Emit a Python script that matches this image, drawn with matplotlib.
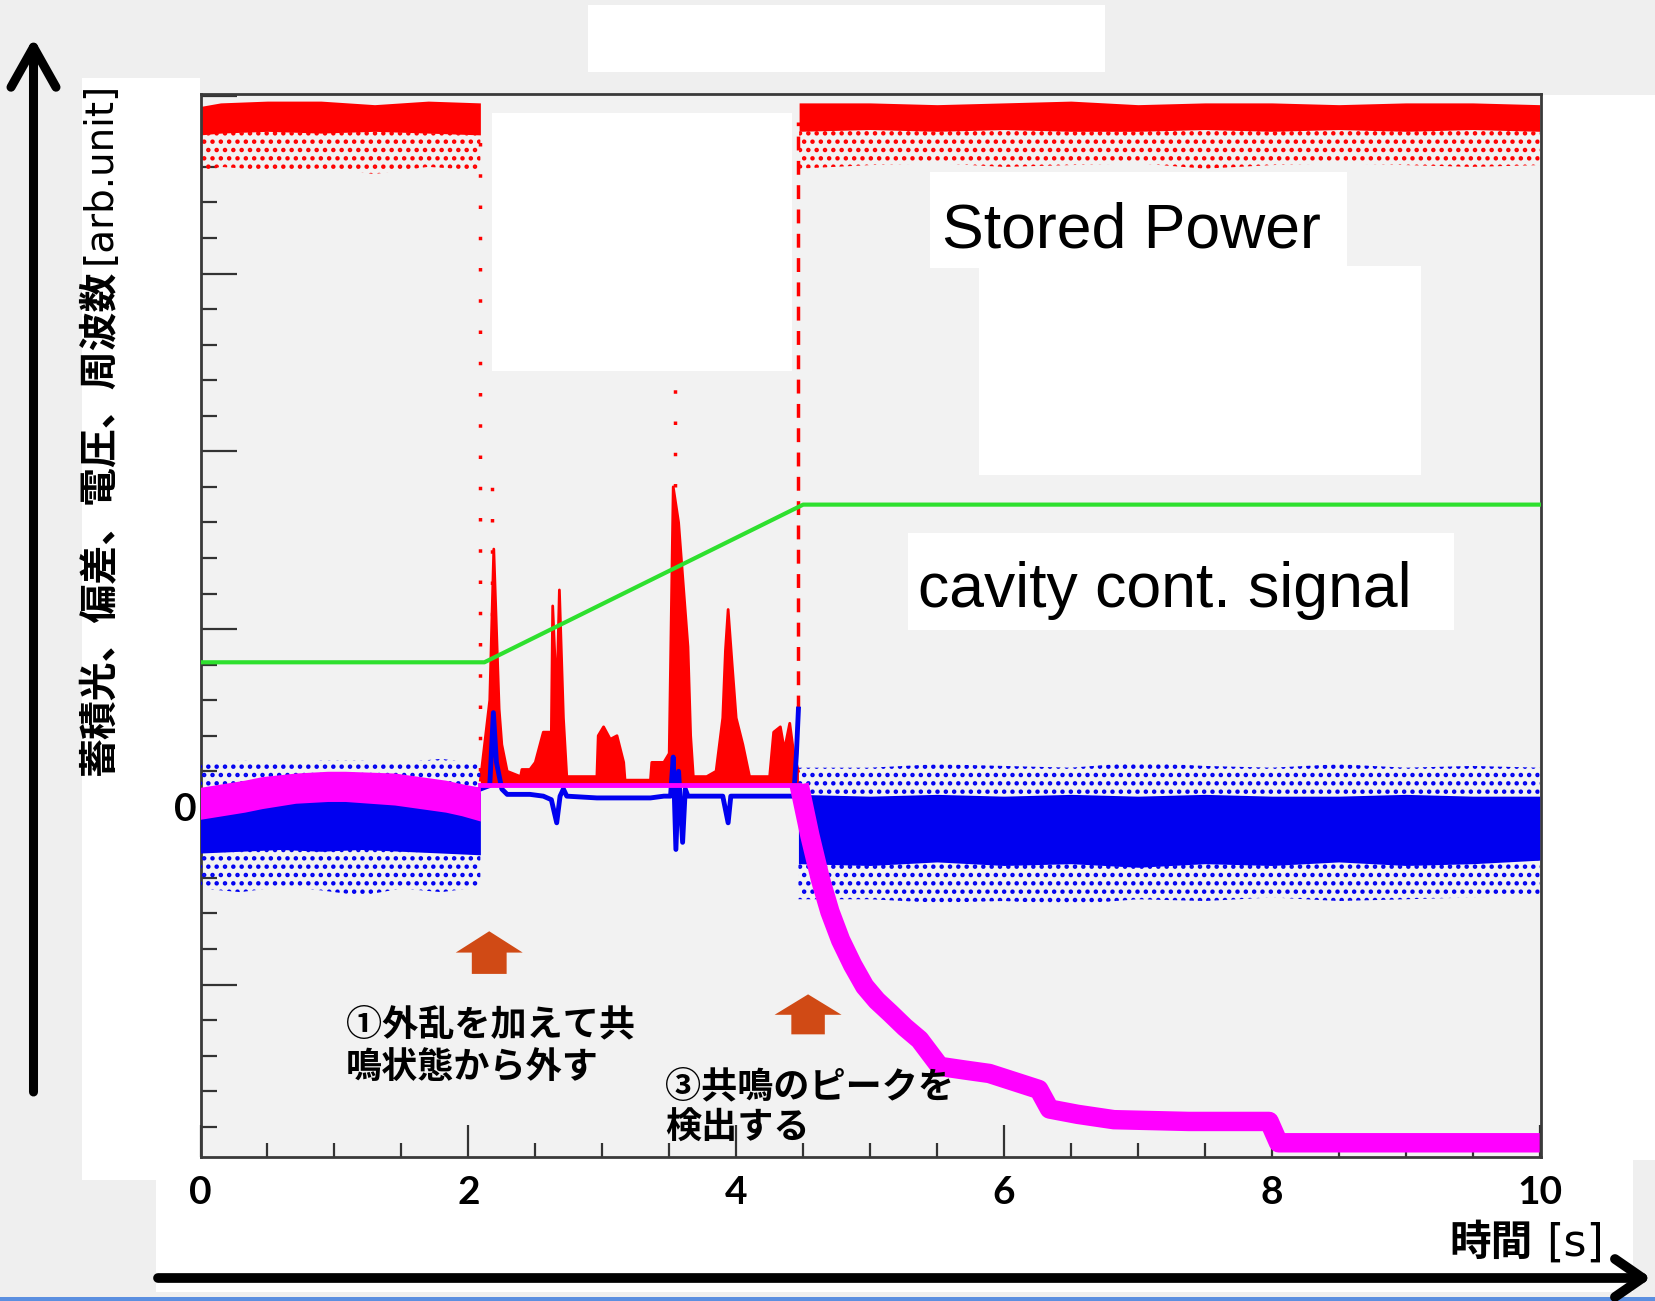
import matplotlib
matplotlib.use("Agg")
import matplotlib.pyplot as plt
from matplotlib.patches import Rectangle, FancyArrow, FancyArrowPatch

W, H = 1655, 1301
plt.rcParams['hatch.linewidth'] = 2.0

# ---- values: time [s], signal [arb.unit] ----
# Stored Power (red), on-resonance bands before / after the search
sp_on1_t = [0.00, 0.15, 0.50, 0.90, 1.30, 1.70, 2.09]
sp_on1_top = [3.94, 3.96, 3.97, 3.97, 3.95, 3.97, 3.96]
sp_on1_low = [3.78, 3.79, 3.80, 3.79, 3.80, 3.79, 3.78]
sp_on1_min = [3.57, 3.60, 3.58, 3.59, 3.56, 3.60, 3.58]
sp_on2_t = [4.47, 5.0, 5.5, 6.0, 6.5, 7.0, 7.5, 8.0, 8.5, 9.0, 9.5, 10.0]
sp_on2_top = [3.96, 3.96, 3.95, 3.96, 3.97, 3.95, 3.96, 3.96, 3.95, 3.96, 3.96, 3.95]
sp_on2_low = [3.80, 3.81, 3.80, 3.81, 3.80, 3.80, 3.81, 3.80, 3.81, 3.80, 3.81, 3.80]
sp_on2_min = [3.59, 3.61, 3.62, 3.60, 3.61, 3.62, 3.59, 3.61, 3.62, 3.61, 3.60, 3.61]
# Stored Power while the cavity is swept (peaks)
sp_off_t = [2.09, 2.16, 2.19, 2.21, 2.23, 2.25, 2.29, 2.39, 2.40, 2.46, 2.50, 2.56,
            2.62, 2.63, 2.66, 2.68, 2.71, 2.735, 2.96, 2.97, 3.01, 3.06, 3.11, 3.16,
            3.17, 3.36, 3.37, 3.46, 3.50, 3.53, 3.57, 3.61, 3.64, 3.66, 3.68, 3.78,
            3.85, 3.90, 3.92, 3.94, 3.97, 4.00, 4.05, 4.10, 4.25, 4.28, 4.33, 4.36,
            4.40, 4.43, 4.465]
sp_off_v = [0.15, 0.60, 1.45, 1.00, 0.55, 0.35, 0.20, 0.17, 0.21, 0.21, 0.25, 0.42,
            0.42, 1.13, 0.60, 1.22, 0.50, 0.17, 0.17, 0.40, 0.45, 0.38, 0.40, 0.25,
            0.15, 0.15, 0.25, 0.25, 0.30, 1.80, 1.60, 1.20, 0.90, 0.40, 0.17, 0.17,
            0.20, 0.50, 0.88, 1.11, 0.80, 0.50, 0.35, 0.17, 0.17, 0.42, 0.45, 0.32,
            0.47, 0.30, 0.20]
sp_base = 0.13
# scattered samples at the jumps / tops of the peaks
sp_dot_t = [2.09, 2.175, 3.545]
sp_dot_lo = [0.20, 0.90, 1.80]
sp_dot_hi = [3.80, 1.95, 2.60]
sp_jump_t = 4.465
sp_jump_lo, sp_jump_hi = 0.55, 3.85

# deviation (blue)
bl_on1_t = [0.00, 0.30, 0.60, 0.90, 1.20, 1.50, 1.80, 2.09]
bl_on1_max = [0.24, 0.26, 0.25, 0.26, 0.26, 0.25, 0.27, 0.24]
bl_on1_hi = [0.10, 0.13, 0.15, 0.16, 0.16, 0.15, 0.12, 0.08]
bl_on1_lo = [-0.26, -0.25, -0.24, -0.25, -0.24, -0.25, -0.26, -0.27]
bl_on1_min = [-0.46, -0.48, -0.45, -0.47, -0.50, -0.46, -0.48, -0.45]
bl_off_t = [2.09, 2.16, 2.187, 2.21, 2.25, 2.29, 2.46, 2.56, 2.62, 2.66, 2.685, 2.71,
            2.735, 2.96, 3.16, 3.36, 3.46, 3.51, 3.53, 3.55, 3.57, 3.60, 3.62, 3.64,
            3.78, 3.90, 3.94, 3.96, 4.10, 4.43, 4.45, 4.465]
bl_off_v = [0.10, 0.12, 0.53, 0.25, 0.10, 0.07, 0.07, 0.06, 0.04, -0.09, 0.06, 0.10,
            0.06, 0.05, 0.05, 0.05, 0.06, 0.06, 0.28, -0.24, 0.20, -0.20, 0.10, 0.06,
            0.06, 0.06, -0.09, 0.06, 0.06, 0.06, 0.30, 0.55]
bl_on2_t = [4.465, 5.0, 5.5, 6.0, 6.5, 7.0, 7.5, 8.0, 8.5, 9.0, 9.5, 10.0]
bl_on2_max = [0.22, 0.22, 0.24, 0.23, 0.22, 0.25, 0.23, 0.22, 0.24, 0.22, 0.23, 0.22]
bl_on2_hi = [0.07, 0.06, 0.07, 0.06, 0.07, 0.06, 0.07, 0.06, 0.06, 0.07, 0.06, 0.06]
bl_on2_lo = [-0.32, -0.33, -0.31, -0.33, -0.32, -0.34, -0.32, -0.33, -0.31, -0.33, -0.32, -0.30]
bl_on2_min = [-0.52, -0.52, -0.54, -0.53, -0.55, -0.52, -0.53, -0.51, -0.53, -0.52, -0.51, -0.50]

# voltage (magenta)
mg_on_t = [0.00, 0.33, 0.46, 0.71, 0.95, 1.08, 1.45, 1.83, 1.95, 2.09]
mg_on_top = [0.11, 0.15, 0.17, 0.19, 0.20, 0.20, 0.19, 0.15, 0.13, 0.11]
mg_on_bot = [-0.07, -0.03, -0.01, 0.02, 0.03, 0.03, 0.01, -0.03, -0.05, -0.08]
mg_hold_t = [2.09, 4.47]
mg_hold_v = [0.125, 0.125]
mg_decay_t = [4.47, 4.55, 4.63, 4.70, 4.78, 4.87, 4.96, 5.05, 5.15, 5.26, 5.37, 5.45,
              5.52, 5.70, 5.89, 6.26, 6.34, 6.55, 6.82, 7.38, 7.98, 8.05, 10.0]
mg_decay_v = [0.125, -0.16, -0.41, -0.59, -0.75, -0.89, -1.01, -1.09, -1.16, -1.24,
              -1.31, -1.39, -1.46, -1.48, -1.50, -1.59, -1.70, -1.73, -1.76, -1.77,
              -1.77, -1.89, -1.89]

# cavity cont. signal (green)
cc_t = [0.0, 2.12, 4.50, 10.0]
cc_v = [0.813, 0.813, 1.70, 1.70]

x_major = [0, 2, 4, 6, 8, 10]
x_minor = [0.5 * i for i in range(21) if i % 4 != 0]
y_major = [-1, 0, 1, 2, 3, 4]
y_minor = [round(-1.8 + 0.2 * i, 1) for i in range(29) if (i + 1) % 5 != 0]

RED, BLUE, MAG, GRN = '#ff0000', '#0000f0', '#ff00ff', '#2ee02e'
JP = ['Noto Sans CJK JP', 'DejaVu Sans']
LAT = ['Lato', 'DejaVu Sans']

fig = plt.figure(figsize=(W / 100, H / 100), dpi=100, facecolor='#efefef')


def px_rect(x0, y0, x1, y1, color, z):
    fig.add_artist(Rectangle((x0 / W, 1 - y1 / H), (x1 - x0) / W, (y1 - y0) / H,
                             transform=fig.transFigure, facecolor=color,
                             edgecolor='none', zorder=z))


# slide background pieces
px_rect(588, 5, 1105, 72, 'white', -1)
px_rect(82, 78, 200, 1180, 'white', -1)
px_rect(156, 1157, 1633, 1292, 'white', -1)
px_rect(1541, 95, 1655, 1160, 'white', -1)
px_rect(0, 1297, W, H, '#5b8fe0', -1)

ax = fig.add_axes([200.5 / W, 1 - 1157 / H, (1541 - 200.5) / W, (1157 - 94) / H])
ax.set_facecolor('#f2f2f2')

# red
for t, lo, top, mn in [(sp_on1_t, sp_on1_low, sp_on1_top, sp_on1_min),
                       (sp_on2_t, sp_on2_low, sp_on2_top, sp_on2_min)]:
    ax.fill_between(t, lo, top, color=RED, lw=0, zorder=2)
    ax.fill_between(t, mn, lo, facecolor='none', edgecolor=RED, hatch='..', lw=0, zorder=2)
ax.fill_between(sp_off_t, sp_base, sp_off_v, color=RED, lw=0, zorder=2)
ax.plot(sp_off_t, sp_off_v, color=RED, lw=2, zorder=2)
ax.vlines(sp_dot_t, sp_dot_lo, sp_dot_hi, color=RED, lw=2.5, linestyles=(0, (1, 8)), zorder=2)
ax.vlines(sp_jump_t, sp_jump_lo, sp_jump_hi, color=RED, lw=2.5, linestyles=(0, (4, 3)), zorder=2)

# blue
for t, mx, hi, lo, mn in [(bl_on1_t, bl_on1_max, bl_on1_hi, bl_on1_lo, bl_on1_min),
                          (bl_on2_t, bl_on2_max, bl_on2_hi, bl_on2_lo, bl_on2_min)]:
    ax.fill_between(t, lo, hi, color=BLUE, lw=0, zorder=3)
    ax.fill_between(t, hi, mx, facecolor='none', edgecolor=BLUE, hatch='..', lw=0, zorder=3)
    ax.fill_between(t, mn, lo, facecolor='none', edgecolor=BLUE, hatch='..', lw=0, zorder=3)
ax.plot(bl_off_t, bl_off_v, color=BLUE, lw=3.5, zorder=3)

# magenta
ax.fill_between(mg_on_t, mg_on_bot, mg_on_top, color=MAG, lw=0, zorder=4)
ax.plot(mg_hold_t, mg_hold_v, color=MAG, lw=3.5, zorder=4)
ax.plot(mg_decay_t, mg_decay_v, color=MAG, lw=14, solid_joinstyle='round',
        solid_capstyle='butt', zorder=4)

# green
ax.plot(cc_t, cc_v, color=GRN, lw=3, zorder=5)

# orange markers
ax.add_patch(FancyArrow(2.156, -0.94, 0, 0.24, width=0.26, head_width=0.50,
                        head_length=0.12, length_includes_head=True,
                        color='#d04a15', lw=0, zorder=6))
ax.add_patch(FancyArrow(4.537, -1.28, 0, 0.225, width=0.25, head_width=0.50,
                        head_length=0.115, length_includes_head=True,
                        color='#d04a15', lw=0, zorder=6))
ax.text(1.088, -1.228, '①外乱を加えて共', fontsize=26, fontweight='bold',
        family=JP, ha='left', va='center', zorder=7)
ax.text(1.088, -1.466, '鳴状態から外す', fontsize=26, fontweight='bold',
        family=JP, ha='left', va='center', zorder=7)
ax.text(3.469, -1.573, '③共鳴のピークを', fontsize=26, fontweight='bold',
        family=JP, ha='left', va='center', zorder=7)
ax.text(3.469, -1.810, '検出する', fontsize=26, fontweight='bold',
        family=JP, ha='left', va='center', zorder=7)

ax.set_xlim(0, 10.01)
ax.set_ylim(-1.97, 4.01)
ax.set_xticks(x_major)
ax.set_xticks(x_minor, minor=True)
ax.set_xticklabels([str(v) for v in x_major], fontsize=28, fontweight='bold', family=LAT)
ax.set_yticks(y_major)
ax.set_yticks(y_minor, minor=True)
ax.set_yticklabels(['0' if v == 0 else '' for v in y_major], fontsize=28,
                   fontweight='bold', family=LAT)
ax.tick_params(axis='x', which='major', direction='in', length=23, width=1.6,
               color='#333333', pad=13)
ax.tick_params(axis='x', which='minor', direction='in', length=10, width=1.6,
               color='#333333')
ax.tick_params(axis='y', which='major', direction='in', length=26, width=1.6,
               color='#333333', pad=3)
ax.tick_params(axis='y', which='minor', direction='in', length=11.5, width=1.6,
               color='#333333')
for s in ax.spines.values():
    s.set_color('#3a3a3a')
    s.set_linewidth(2)

# redaction boxes and the in-plot labels
px_rect(492, 113, 792, 371, 'white', 3)
px_rect(930, 172, 1347, 268, 'white', 3)
px_rect(979, 266, 1421, 475, 'white', 3)
px_rect(908, 533, 1454, 630, 'white', 3)
fig.text(942 / W, 1 - 247 / H, 'Stored Power', fontsize=45, family='Liberation Sans',
         ha='left', va='baseline', zorder=8)
fig.text(918 / W, 1 - 607 / H, 'cavity cont. signal', fontsize=45,
         family='Liberation Sans', ha='left', va='baseline', zorder=8)

# axis titles
fig.text(100 / W, 1 - 775 / H, '蓄積光、偏差、電圧、周波数', rotation=90, fontsize=28,
         fontweight='bold', family=JP, ha='center', va='bottom')
fig.text(100 / W, 1 - 264 / H, '[arb.unit]', rotation=90, fontsize=28,
         family='DejaVu Sans', ha='center', va='bottom')
fig.text(1533 / W, 1 - 1243 / H, '時間', fontsize=30, fontweight='bold', family=JP,
         ha='right', va='center')
fig.text(1546 / W, 1 - 1243 / H, '[s]', fontsize=32, family='DejaVu Sans',
         ha='left', va='center')

# big hand-drawn axis arrows
fig.add_artist(FancyArrowPatch((33.5 / W, 1 - 1092 / H), (33.5 / W, 1 - 38 / H),
                               transform=fig.transFigure, shrinkA=0, shrinkB=0,
                               arrowstyle='->,head_length=0.8,head_width=0.45',
                               mutation_scale=36, lw=6.5, color='black'))
fig.add_artist(FancyArrowPatch((158 / W, 1 - 1278 / H), (1651 / W, 1 - 1278 / H),
                               transform=fig.transFigure, shrinkA=0, shrinkB=0,
                               arrowstyle='->,head_length=0.55,head_width=0.38',
                               mutation_scale=36, lw=7, color='black'))

fig.savefig('out.png', dpi=100, facecolor=fig.get_facecolor())
